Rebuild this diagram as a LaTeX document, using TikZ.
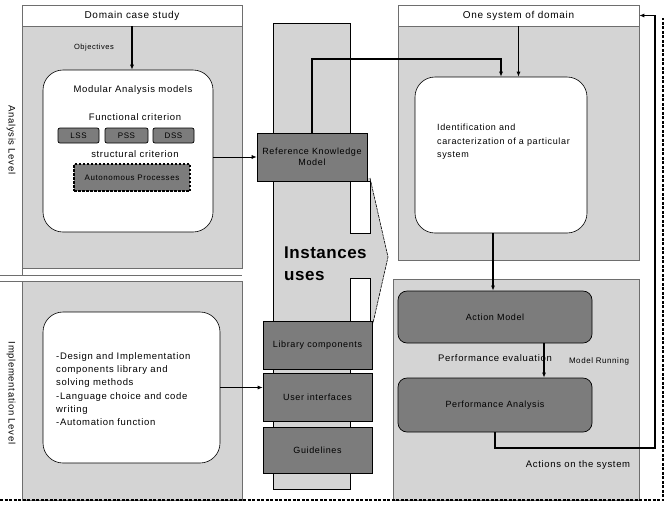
\documentclass[tikz,border=0pt]{standalone}
\usepackage{fontspec}
\setmainfont{Liberation Sans}[LetterSpace=7]
\newfontfamily\bigfont{Liberation Sans}[LetterSpace=3]
\usetikzlibrary{arrows.meta}
\definecolor{lgrey}{RGB}{212,212,212}
\definecolor{dgrey}{RGB}{124,124,124}
\definecolor{pborder}{RGB}{110,110,110}
\tikzset{
  sz/.style 2 args={minimum width=#1pt, minimum height=#2pt},
  panel/.style={draw=pborder, fill=lgrey, line width=0.6pt, inner sep=0pt},
  hdr/.style={draw=pborder, fill=white, line width=0.6pt, inner sep=0pt, font=\fontsize{10}{12}\selectfont},
  wbox/.style={draw=black, fill=white, rounded corners=20pt, line width=0.6pt, inner sep=0pt},
  dbox/.style={draw=black, fill=dgrey, line width=0.7pt, inner sep=0pt, align=center, font=\fontsize{9}{11.5}\selectfont},
  rdbox/.style={dbox, rounded corners=9pt},
  sbox/.style={dbox, rounded corners=2pt, font=\fontsize{8}{10}\selectfont},
  arr/.style={-{Latex[length=5pt,width=4pt]}, line width=1.1pt},
  txt/.style={inner sep=0pt, font=\fontsize{9.5}{12}\selectfont},
  stxt/.style={inner sep=0pt, font=\fontsize{8}{10}\selectfont},
  thin/.style={draw=pborder, line width=0.6pt},
  dashframe/.style={line width=1.7pt, dash pattern=on 3pt off 1.5pt},
}
\begin{document}
\begin{tikzpicture}[x=1pt, y=-1pt]
\useasboundingbox (0,0) rectangle (671,507);
\fill[white] (0,0) rectangle (671,507);

% left column
\node[panel, sz={220}{242}] (panelA) at (132,147) {};
\node[hdr, sz={220}{21}] (hdrL) at (132,15.5) {Domain case study};
\node[panel, sz={220}{219}] (panelI) at (132,390.5) {};
\draw[thin] (22,5) -- (22,275);
\draw[thin] (0,275) -- (242,275);
\draw[thin] (0,281) -- (22,281);
\node[txt, rotate=-90] (alab) at (11,140) {Analysis Level};
\node[txt, rotate=-90] (ilab) at (11,393) {Implementation Level};

\node[wbox, sz={170}{162}] (modbox) at (128,151) {};
\node[stxt, font=\fontsize{7.5}{9}\selectfont] (obj) at (94,48) {Objectives};
\node[txt] (modt) at (133,90) {Modular Analysis models};
\node[txt] (funct) at (135,117) {Functional criterion};
\node[sbox, sz={41}{15}] (lss) at (78.5,135.5) {LSS};
\node[sbox, sz={43}{15}] (pss) at (126.5,135.5) {PSS};
\node[sbox, sz={41}{15}] (dss) at (173.5,135.5) {DSS};
\node[txt] (struct) at (135,154) {structural criterion};
\node[dbox, sz={116}{27}, line width=1.4pt, dash pattern=on 2.5pt off 1.5pt, font=\fontsize{8}{10}\selectfont] (auto) at (132,177.5) {Autonomous Processes};

\node[wbox, sz={177}{151}] (implbox) at (131.5,387.5) {};
\node[txt, align=left, anchor=west, font=\fontsize{9.5}{13.2}\selectfont] (implt) at (56,389) {-Design and Implementation\\components library and\\solving methods\\-Language choice and code\\writing\\-Automation function};

% middle column
\node[draw=black, fill=lgrey, line width=0.6pt, sz={77}{466}, inner sep=0pt] (tall) at (311.5,256) {};
\fill[lgrey] (350,178) -- (370,178) -- (388,257) -- (373,323) -- (350,323) -- cycle;
\draw[line width=0.6pt, dash pattern=on 3pt off 0.8pt] (370,178) -- (388,257) -- (373,323);
\draw[fill=white, line width=0.6pt] (350,181) rectangle (370,233);
\draw[fill=white, line width=0.6pt] (350,278) rectangle (370,321);
\node[inner sep=0pt, anchor=west, align=left, font=\bigfont\bfseries\fontsize{17}{22}\selectfont] (inst) at (284,264) {Instances\\uses};

\node[dbox, sz={110}{48}] (rkm) at (312,157) {Reference Knowledge\\Model};
\node[dbox, sz={109}{48}] (lib) at (317.5,345) {Library components};
\node[dbox, sz={109}{48}] (user) at (317.5,397) {User interfaces};
\node[dbox, sz={109}{46}] (guide) at (317.5,450) {Guidelines};

% right column
\node[panel, sz={241}{234}] (panelR1) at (518.5,143) {};
\node[hdr, sz={241}{21}] (hdrR) at (518.5,15.5) {One system of domain};
\node[wbox, sz={172}{156}] (ident) at (501,155) {};
\node[txt, align=left, anchor=west, font=\fontsize{9}{13.5}\selectfont] (identt) at (437,142) {Identification and\\caracterization of a particular\\system};

\node[panel, sz={246}{221}] (panelR2) at (516,389.5) {};
\node[rdbox, sz={194}{52}] (action) at (495,317) {Action Model};
\node[rdbox, sz={194}{54}] (perf) at (495,405) {Performance Analysis};
\node[txt] (peval) at (495,358) {Performance evaluation};
\node[stxt] (mrun) at (599,361) {Model Running};
\node[txt] (acts) at (578,465) {Actions on the system};

% connectors
\draw[arr] (hdrL.south) -- (hdrL.south |- modbox.north);
\draw[arr, line width=0.7pt] (modbox.east |- rkm.west) -- (rkm.west);
\coordinate (k1) at (312,59);
\coordinate (k2) at (501,59);
\draw[arr] (rkm.north) -- (k1) -- (k2) -- (k2 |- ident.north);
\draw[arr] (hdrR.south) -- (hdrR.south |- ident.north);
\draw[arr] ([xshift=-8pt]ident.south) -- ([xshift=-8pt]ident.south |- action.north);
\draw[arr] ([xshift=49pt]action.south) -- ([xshift=49pt]action.south |- perf.north);
\coordinate (c1) at (655,448);
\draw[arr] (perf.south) |- (c1) |- (hdrR.east);
\draw[arr, line width=0.8pt] (implbox.east) -- (implbox.east -| user.west);

% dashed frame
\coordinate (f1) at (0,500);
\coordinate (f2) at (663,500);
\coordinate (f3) at (663,18);
\draw[dashframe] (f1) -- (f2) -- (f3);
\end{tikzpicture}
\end{document}
